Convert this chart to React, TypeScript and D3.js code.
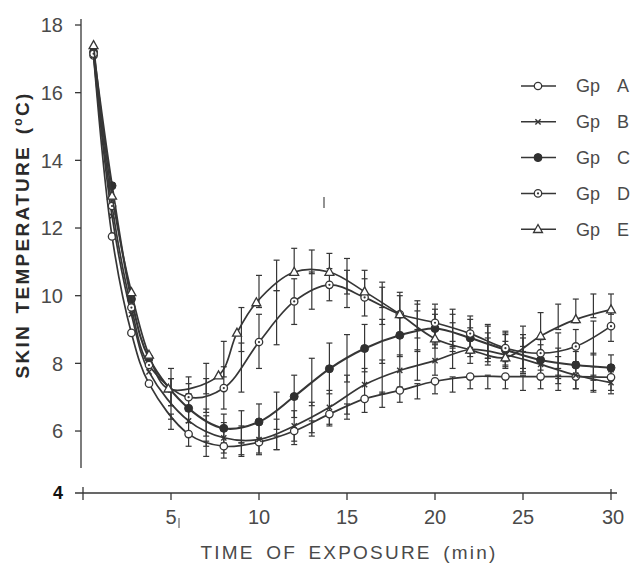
import React from "react";
import * as d3 from "d3";

// ---- data ----
const groupNames = ["A", "B", "C", "D", "E"];

const tA = [0.6, 1.65, 2.75, 3.75, 6, 8, 10, 12, 14, 16, 18, 20, 22, 24, 26, 28, 30];
const vA = [17.1, 11.75, 8.9, 7.4, 5.91, 5.55, 5.67, 6.0, 6.5, 6.95, 7.2, 7.47, 7.61, 7.61, 7.61, 7.61, 7.59];

const tB = [0.6, 1.65, 2.75, 3.75, 6, 8, 10, 12, 14, 16, 18, 20, 22, 24, 26, 28, 30];
const vB = [17.1, 12.35, 9.45, 7.75, 6.3, 5.8, 5.75, 6.15, 6.7, 7.37, 7.79, 8.08, 8.41, 8.25, 7.97, 7.65, 7.43];

const tC = [0.6, 1.65, 2.75, 3.75, 6, 8, 10, 12, 14, 16, 18, 20, 22, 24, 26, 28, 30];
const vC = [17.2, 13.25, 9.9, 8.15, 6.67, 6.08, 6.27, 7.02, 7.84, 8.44, 8.83, 9.03, 8.75, 8.4, 8.1, 7.95, 7.87];

const tD = [0.6, 1.65, 2.75, 3.75, 6, 8, 10, 12, 14, 16, 18, 20, 22, 24, 26, 28, 30];
const vD = [17.15, 12.65, 9.65, 7.95, 7.0, 7.27, 8.63, 9.83, 10.32, 9.95, 9.45, 9.2, 8.88, 8.45, 8.3, 8.5, 9.1];

const tE = [0.6, 1.65, 2.75, 3.75, 4.85, 7.7, 8.75, 9.85, 12, 14, 16, 18, 20, 22, 24, 26, 28, 30];
const vE = [17.4, 12.95, 10.1, 8.25, 7.25, 7.64, 8.9, 9.8, 10.7, 10.7, 10.12, 9.45, 8.73, 8.4, 8.17, 8.81, 9.3, 9.59];

// error bars (minute, low, high)
const barT = [5, 6, 7, 8, 9, 10, 11, 12, 13, 14, 15, 16, 17, 18, 19, 20, 21, 22, 23, 24, 25, 26, 27, 28, 29, 30];
const loA = [6.05, 5.55, 5.25, 5.2, 5.25, 5.35, 5.45, 5.6, 5.85, 6.15, 6.35, 6.55, 6.7, 6.85, 6.95, 7.1, 7.15, 7.25, 7.25, 7.25, 7.2, 7.25, 7.2, 7.25, 7.2, 7.2];
const hiA = [6.5, 5.95, 5.7, 5.6, 5.65, 5.7, 5.85, 6.05, 6.3, 6.55, 6.8, 7.0, 7.15, 7.25, 7.4, 7.5, 7.6, 7.65, 7.65, 7.65, 7.65, 7.65, 7.65, 7.65, 7.65, 7.65];
const loB = [6.35, 5.9, 5.55, 5.35, 5.3, 5.3, 5.45, 5.7, 5.95, 6.2, 6.5, 6.9, 7.1, 7.3, 7.5, 7.65, 7.85, 8.0, 7.95, 7.85, 7.7, 7.6, 7.4, 7.25, 7.15, 7.1];
const hiB = [7.15, 6.7, 6.45, 6.25, 6.15, 6.2, 6.35, 6.6, 6.85, 7.2, 7.65, 7.85, 8.1, 8.25, 8.4, 8.55, 8.65, 8.8, 8.75, 8.65, 8.5, 8.35, 8.2, 8.05, 7.9, 7.75];
const loC = [6.75, 6.25, 5.85, 5.65, 5.65, 5.75, 6.05, 6.4, 6.75, 7.1, 7.45, 7.75, 8.0, 8.2, 8.35, 8.45, 8.35, 8.2, 8.05, 7.9, 7.75, 7.65, 7.55, 7.55, 7.5, 7.5];
const hiC = [7.55, 7.1, 6.65, 6.5, 6.6, 6.8, 7.15, 7.65, 8.15, 8.6, 8.85, 9.15, 9.3, 9.45, 9.55, 9.6, 9.45, 9.3, 9.1, 8.9, 8.75, 8.55, 8.45, 8.35, 8.3, 8.25];
const loD = [6.75, 6.6, 6.55, 6.65, 7.15, 7.85, 8.55, 9.15, 9.6, 9.85, 9.65, 9.4, 9.15, 8.9, 8.75, 8.65, 8.5, 8.35, 8.15, 7.95, 7.85, 7.8, 7.85, 8.0, 8.25, 8.65];
const hiD = [7.55, 7.4, 7.55, 7.9, 8.6, 9.45, 10.15, 10.5, 10.7, 10.8, 10.75, 10.5, 10.25, 10.0, 9.85, 9.75, 9.6, 9.4, 9.15, 8.95, 8.85, 8.8, 8.9, 9.0, 9.25, 9.55];
const loE = [7.2, 7.0, 7.1, 7.6, 8.35, 9.65, 10.15, 10.6, 10.65, 10.65, 10.05, 10.0, 9.65, 9.35, 9.0, 8.6, 8.45, 8.3, 8.15, 8.05, 8.35, 8.7, 9.0, 9.2, 9.35, 9.45];
const hiE = [7.85, 7.6, 8.0, 8.65, 9.65, 10.6, 11.05, 11.4, 11.35, 11.25, 11.1, 10.75, 10.4, 10.1, 9.75, 9.45, 9.2, 9.05, 8.9, 8.85, 9.1, 9.5, 9.75, 9.9, 10.05, 10.05];

const xTicks = [5, 10, 15, 20, 25, 30];
const yTicks = [6, 8, 10, 12, 14, 16, 18];

// ---- drawing ----
const W = 634, H = 565;
const INK = "#363636";
const TXT = "#4a4a4a";
const FONT = "'Liberation Sans', Arial, Helvetica, sans-serif";

const x = d3.scaleLinear().domain([0, 30]).range([83, 611]);
const y = d3.scaleLinear().domain([4, 18]).range([498.7, 25]);
const AXIS_Y = 493;
const AXIS_X = 81;

type Kind = "open" | "cross" | "filled" | "dot" | "tri";
const kinds: Kind[] = ["open", "cross", "filled", "dot", "tri"];
const times = [tA, tB, tC, tD, tE];
const vals = [vA, vB, vC, vD, vE];
const los = [loA, loB, loC, loD, loE];
const his = [hiA, hiB, hiC, hiD, hiE];

const line = d3
  .line<[number, number]>()
  .x((d) => x(d[0]))
  .y((d) => y(d[1]))
  .curve(d3.curveCatmullRom.alpha(0.5));

function Marker({ kind, cx, cy }: { kind: Kind; cx: number; cy: number }) {
  const r = 3.7;
  if (kind === "open")
    return <circle cx={cx} cy={cy} r={r} fill="#fff" stroke={INK} strokeWidth={1.3} />;
  if (kind === "filled") return <circle cx={cx} cy={cy} r={r + 0.3} fill="#303030" stroke="#303030" strokeWidth={1} />;
  if (kind === "dot")
    return (
      <g>
        <circle cx={cx} cy={cy} r={r} fill="#fff" stroke={INK} strokeWidth={1.3} />
        <circle cx={cx} cy={cy} r={1.1} fill={INK} />
      </g>
    );
  if (kind === "tri") {
    const s = 4.7;
    return (
      <path
        d={`M${cx},${cy - s}L${cx + s * 0.95},${cy + s * 0.7}L${cx - s * 0.95},${cy + s * 0.7}Z`}
        fill="#fff"
        stroke={INK}
        strokeWidth={1.3}
      />
    );
  }
  const c = 2.6;
  return (
    <g stroke={INK} strokeWidth={1.4}>
      <line x1={cx - c} y1={cy - c} x2={cx + c} y2={cy + c} />
      <line x1={cx - c} y1={cy + c} x2={cx + c} y2={cy - c} />
    </g>
  );
}

export default function App() {
  return (
    <div style={{ position: "absolute", left: 0, top: 0 }}>
      <svg width={W} height={H} style={{ display: "block", background: "#fff" }} fontFamily={FONT}>
        {/* y axis */}
        <line x1={AXIS_X} y1={19} x2={AXIS_X} y2={468} stroke={INK} strokeWidth={1.3} />
        {yTicks.map((v) => (
          <g key={v}>
            <line x1={AXIS_X - 6} x2={AXIS_X} y1={y(v)} y2={y(v)} stroke={INK} strokeWidth={1.3} />
            <text x={AXIS_X - 18} y={y(v)} dy="0.36em" textAnchor="end" fontSize={20} fill={TXT}>
              {v}
            </text>
          </g>
        ))}
        <text x={AXIS_X - 18} y={AXIS_Y} dy="0.36em" textAnchor="end" fontSize={18} fontWeight="bold" fill="#111">
          4
        </text>
        {/* x axis */}
        <line x1={AXIS_X - 6} y1={AXIS_Y} x2={x(30) + 6} y2={AXIS_Y} stroke={INK} strokeWidth={1.3} />
        <line x1={x(0)} y1={AXIS_Y - 6} x2={x(0)} y2={AXIS_Y + 7} stroke={INK} strokeWidth={1.3} />
        {xTicks.map((t) => (
          <g key={t}>
            <line x1={x(t)} x2={x(t)} y1={t === 30 ? AXIS_Y - 4 : AXIS_Y} y2={AXIS_Y + 7} stroke={INK} strokeWidth={1.3} />
            <text x={x(t) + (t === 30 ? 2 : 0)} y={AXIS_Y + 31} textAnchor="middle" fontSize={20} fill={TXT}>
              {t}
            </text>
          </g>
        ))}
        <line x1={x(5) + 8} x2={x(5) + 8} y1={AXIS_Y + 25} y2={AXIS_Y + 35} stroke={TXT} strokeWidth={1} />
        <text
          x={(x(0) + x(30)) / 2 + 2}
          y={559}
          textAnchor="middle"
          fontSize={19}
          letterSpacing={2.2}
          wordSpacing={4}
          fill={TXT}
        >
          TIME OF EXPOSURE (min)
        </text>
        <text
          transform={`translate(29,${235}) rotate(-90)`}
          textAnchor="middle"
          fontSize={19}
          fontWeight="bold"
          letterSpacing={2.3}
          wordSpacing={3}
          fill="#2a2a2a"
        >
          SKIN TEMPERATURE (
          <tspan fontSize={12} dy={-7}>
            o
          </tspan>
          <tspan dy={7}>C)</tspan>
        </text>
        {/* stray mark in the original */}
        <line x1={324} x2={324} y1={197} y2={208} stroke={TXT} strokeWidth={1.2} />

        {/* error bars */}
        {los.map((lo, g) => (
          <g key={"b" + g} stroke={INK} strokeWidth={1.2}>
            {barT.map((t, i) => {
              const bx = x(t);
              const y1 = y(lo[i]);
              const y2 = y(his[g][i]);
              return (
                <g key={i}>
                  <line x1={bx} x2={bx} y1={y1} y2={y2} />
                  <line x1={bx - 3} x2={bx + 3} y1={y1} y2={y1} />
                  <line x1={bx - 3} x2={bx + 3} y1={y2} y2={y2} />
                </g>
              );
            })}
          </g>
        ))}

        {/* series */}
        {vals.map((v, g) => {
          const pts = times[g].map((t, i) => [t, v[i]] as [number, number]);
          return (
            <g key={"s" + g}>
              <path d={line(pts) || ""} fill="none" stroke={INK} strokeWidth={g === 2 ? 2.1 : 1.7} />
              {pts.map((p, i) => (
                <Marker key={i} kind={kinds[g]} cx={x(p[0])} cy={y(p[1])} />
              ))}
            </g>
          );
        })}

        {/* legend */}
        {groupNames.map((n, i) => {
          const ly = 86 + i * 35.8;
          return (
            <g key={n}>
              <line x1={521} x2={556} y1={ly} y2={ly} stroke={INK} strokeWidth={1.5} />
              <Marker kind={kinds[i]} cx={538} cy={ly} />
              <text x={576} y={ly} dy="0.35em" fontSize={18} fill={TXT}>
                Gp
              </text>
              <text x={617} y={ly} dy="0.35em" fontSize={18} fill={TXT}>
                {n}
              </text>
            </g>
          );
        })}
      </svg>
    </div>
  );
}
